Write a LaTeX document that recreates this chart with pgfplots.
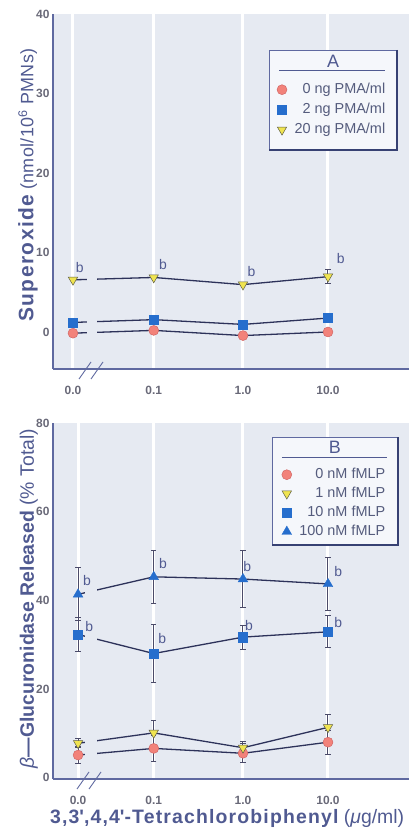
\documentclass[border=0pt]{standalone}
\usepackage{fontspec}
\setmainfont{Liberation Sans}
\usepackage{pgfplots}
\pgfplotsset{compat=1.18}
\definecolor{bgc}{RGB}{230,234,242}
\definecolor{axc}{RGB}{95,105,160}
\definecolor{lnc}{RGB}{45,50,90}
\definecolor{labc}{RGB}{80,90,145}
\definecolor{tickc}{RGB}{105,105,120}
\definecolor{legc}{RGB}{85,92,125}
\definecolor{circf}{RGB}{242,130,122}
\definecolor{circd}{RGB}{205,95,95}
\definecolor{sqf}{RGB}{38,110,205}
\definecolor{yelf}{RGB}{240,228,80}
\definecolor{yeld}{RGB}{95,95,70}
\definecolor{shadc}{RGB}{55,65,115}
\definecolor{boxf}{RGB}{245,247,251}
\definecolor{errc}{RGB}{75,75,105}

\tikzset{blab/.style={font=\fontsize{14}{14}\selectfont, text=labc}}
\pgfplotsset{
  panel/.style={
    scale only axis, width=356bp, height=356bp, anchor=south west,
    xmin=-0.235, xmax=3.953,
    axis x line*=bottom, axis y line*=left,
    axis line style={draw=axc, line width=1.2bp},
    axis background/.style={fill=bgc},
    major tick length=0pt,
    xmajorgrids, major grid style={white, line width=3bp},
    tick label style={font=\fontsize{12}{13}\selectfont\bfseries, text=tickc},
    /pgf/number format/assume math mode=true,
    xticklabel style={yshift=-14bp},
    clip=false,
    legend cell align=right,
    legend style={draw=none, fill=none, inner sep=0pt,
      /tikz/every odd column/.style={column sep=6bp},
      font=\fontsize{14.5}{15}\selectfont, text=legc,
      nodes={inner sep=1.5bp, text height=9bp, text depth=2bp}},
  },
  ln/.style={lnc, line width=1.3bp, no marks},
  circ/.style={only marks, mark=*, mark size=5bp, mark options={fill=circf, draw=circd, line width=0.4bp}},
  sq/.style={only marks, mark=square*, mark size=4.6bp, mark options={fill=sqf, draw=sqf}},
  yel/.style={only marks, mark=triangle*, mark size=5.4bp, mark options={rotate=180, fill=yelf, draw=yeld, line width=0.5bp}},
  tri/.style={only marks, mark=triangle*, mark size=5.6bp, mark options={fill=sqf, draw=sqf}},
  eb/.style={error bars/.cd, y dir=both, y explicit,
    error bar style={errc, line width=1bp},
    error mark options={rotate=90, mark size=2.6bp, errc, line width=1bp}},
}

\begin{document}
\begin{tikzpicture}

% ---------------- Panel A ----------------
\begin{axis}[panel, at={(53bp,461bp)}, height=355bp,
  ymin=-4.6, ymax=40,
  xtick={0,0.95,2,3}, xticklabels={0.0,0.1,1.0,10.0},
  ytick={0,10,20,30,40},
  ylabel={{\fontsize{21}{21}\selectfont\bfseries\addfontfeatures{LetterSpace=7}Superoxide} {\addfontfeatures{LetterSpace=2}(nmol/10\textsuperscript{6} PMNs)}},
  ylabel style={at={(axis description cs:-0.07,0.518)}, anchor=center, font=\fontsize{18}{18}\selectfont, text=labc},
  legend style={at={(rel axis cs:0.938,0.807)}, anchor=north east, row sep=6bp},
]
\addplot[ln, forget plot] coordinates {(0,-0.1) (0.95,0.25) (2,-0.4) (3,0.05)};
\addplot[ln, forget plot] coordinates {(0,1.25) (0.95,1.6) (2,1.0) (3,1.8)};
\addplot[ln, forget plot] coordinates {(0,6.6) (0.95,6.9) (2,6.0) (3,7.0)};
\fill[bgc] (axis cs:0.16,-4.3) rectangle (axis cs:0.28,39.8);
% legend box
\fill[boxf] (rel axis cs:0.607,0.899) rectangle (rel axis cs:0.966,0.617);
\draw[axc, line width=0.5bp] (rel axis cs:0.607,0.617) -- (rel axis cs:0.607,0.899) -- (rel axis cs:0.966,0.899);
\draw[shadc, line width=2.6bp] (rel axis cs:0.966,0.899) -- (rel axis cs:0.966,0.617) -- (rel axis cs:0.607,0.617);
\node[font=\fontsize{18}{18}\selectfont, text=labc] at (rel axis cs:0.787,0.868) {A};
\draw[labc, line width=0.8bp] (rel axis cs:0.635,0.842) -- (rel axis cs:0.933,0.842);

\addplot[circ] coordinates {(0,-0.1) (0.95,0.25) (2,-0.4) (3,0.05)};
\addlegendentry{0 ng PMA/ml}
\addplot[sq] coordinates {(0,1.25) (0.95,1.6) (2,1.0) (3,1.8)};
\addlegendentry{2 ng PMA/ml}
\addplot[yel, eb] coordinates {(0,6.6) +- (0,0) (0.95,6.9) +- (0,0) (2,6.0) +- (0,0) (3,7.0) +- (0,0.9)};
\addlegendentry{20 ng PMA/ml}

\node[blab] at (axis cs:0.08,8.2) {b};
\node[blab] at (axis cs:1.06,8.5) {b};
\node[blab] at (axis cs:2.1,7.7) {b};
\node[blab] at (axis cs:3.15,9.3) {b};
\end{axis}

% ---------------- Panel B ----------------
\begin{axis}[panel, at={(53bp,51bp)}, height=356bp,
  ymin=-0.3, ymax=80,
  xtick={0.06,0.95,2,3}, xticklabels={0.0,0.1,1.0,10.0},
  ytick={0,20,40,60,80},
  ylabel={\textit{β}{\bfseries —Glucuronidase Released} (\% Total)},
  ylabel style={at={(axis description cs:-0.068,0.507)}, anchor=center, font=\fontsize{19.5}{19.5}\selectfont, text=labc},
  xlabel={{\bfseries\addfontfeatures{LetterSpace=6}3,3\textquotesingle,4,4\textquotesingle-Tetrachlorobiphenyl} (\textit{μ}g/ml)},
  xlabel style={at={(axis description cs:-0.018,-0.11)}, anchor=west, font=\fontsize{19.5}{19.5}\selectfont, text=labc},
  legend style={at={(rel axis cs:0.938,0.875)}, anchor=north east, row sep=5bp},
]
\addplot[ln, forget plot] coordinates {(0.06,5.1) (0.95,6.6) (2,5.5) (3,8.0)};
\addplot[ln, forget plot] coordinates {(0.06,7.75) (0.95,10.1) (2,6.75) (3,11.35)};
\addplot[ln, forget plot] coordinates {(0.06,32.3) (0.95,28.0) (2,31.7) (3,32.9)};
\addplot[ln, forget plot] coordinates {(0.06,41.35) (0.95,45.3) (2,44.8) (3,43.7)};
\fill[bgc] (axis cs:0.14,0.2) rectangle (axis cs:0.28,79.8);
% legend box
\fill[boxf] (rel axis cs:0.615,0.961) rectangle (rel axis cs:0.969,0.657);
\draw[axc, line width=0.5bp] (rel axis cs:0.615,0.657) -- (rel axis cs:0.615,0.961) -- (rel axis cs:0.969,0.961);
\draw[shadc, line width=2.6bp] (rel axis cs:0.969,0.961) -- (rel axis cs:0.969,0.657) -- (rel axis cs:0.615,0.657);
\node[font=\fontsize{18}{18}\selectfont, text=labc] at (rel axis cs:0.792,0.933) {B};
\draw[labc, line width=0.8bp] (rel axis cs:0.643,0.902) -- (rel axis cs:0.938,0.902);

\addplot[circ, eb] coordinates {(0.06,5.1) +- (0,1.9) (0.95,6.6) +- (0,3.0) (2,5.5) +- (0,2.1) (3,8.0) +- (0,2.7)};
\addlegendentry{0 nM fMLP}
\addplot[yel, eb] coordinates {(0.06,7.75) +- (0,1.0) (0.95,10.1) +- (0,2.9) (2,6.75) +- (0,1.5) (3,11.35) +- (0,2.8)};
\addlegendentry{1 nM fMLP}
\addplot[sq, eb] coordinates {(0.06,32.3) +- (0,3.8) (0.95,28.0) +- (0,6.6) (2,31.7) +- (0,2.7) (3,32.9) +- (0,3.6)};
\addlegendentry{10 nM fMLP}
\addplot[tri, eb] coordinates {(0.06,41.35) +- (0,6.0) (0.95,45.3) +- (0,6.0) (2,44.8) +- (0,6.4) (3,43.7) +- (0,6.0)};
\addlegendentry{100 nM fMLP}

\node[blab] at (axis cs:0.165,44.4) {b};
\node[blab] at (axis cs:1.06,48.2) {b};
\node[blab] at (axis cs:2.05,47.7) {b};
\node[blab] at (axis cs:3.12,46.6) {b};
\node[blab] at (axis cs:0.19,34.2) {b};
\node[blab] at (axis cs:1.05,31.3) {b};
\node[blab] at (axis cs:2.07,34.4) {b};
\node[blab] at (axis cs:3.12,35.1) {b};
\end{axis}

% axis break marks
\draw[axc, line width=0.9bp] (79bp,451bp) -- (91bp,468bp);
\draw[axc, line width=0.9bp] (91bp,451bp) -- (103bp,468bp);
\draw[axc, line width=0.9bp] (77bp,41bp) -- (89bp,58bp);
\draw[axc, line width=0.9bp] (89bp,41bp) -- (101bp,58bp);

\pgfresetboundingbox
\path (0bp,0bp) rectangle (409bp,830bp);
\end{tikzpicture}
\end{document}
